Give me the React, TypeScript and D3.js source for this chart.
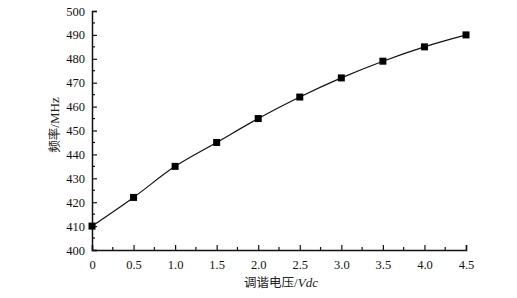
import React, { useRef, useEffect } from "react";
import * as d3 from "d3";

// tuning voltage (Vdc) vs frequency (MHz)
const voltages = [0, 0.5, 1.0, 1.5, 2.0, 2.5, 3.0, 3.5, 4.0, 4.5];
const freqs = [410, 422, 435, 445, 455, 464, 472, 479, 485, 490];
const xTicks = [0, 0.5, 1.0, 1.5, 2.0, 2.5, 3.0, 3.5, 4.0, 4.5];
const yTicks = [400, 410, 420, 430, 440, 450, 460, 470, 480, 490, 500];

const W = 517;
const H = 298;
const margin = { top: 11, right: 51, bottom: 48, left: 92 };

const App = () => {
  const svgRef = useRef<SVGSVGElement>(null);

  useEffect(() => {
    const svg = d3.select(svgRef.current);
    svg.selectAll("*").remove();

    const x = d3.scaleLinear().domain([0, 4.5]).range([margin.left, W - margin.right]);
    const y = d3.scaleLinear().domain([400, 500]).range([H - margin.bottom, margin.top]);
    const font = "'Liberation Serif', 'Times New Roman', serif";

    // x axis, ticks pointing inward
    const minorX = d3.range(0.25, 4.5, 0.5);
    const xAxis = svg
      .append("g")
      .attr("transform", `translate(0,${y(400)})`)
      .call(
        d3
          .axisBottom(x)
          .tickValues(xTicks)
          .tickSize(-5)
          .tickPadding(10)
          .tickFormat((d) => (+d === 0 ? "0" : (+d).toFixed(1)))
      );
    xAxis.selectAll(".tick text").attr("font-family", font).attr("font-size", 12.5).attr("fill", "#111");
    xAxis
      .selectAll(".minor")
      .data(minorX)
      .join("line")
      .attr("x1", (d) => x(d))
      .attr("x2", (d) => x(d))
      .attr("y1", 0)
      .attr("y2", -3);

    // y axis, ticks pointing inward
    const minorY = d3.range(405, 500, 10);
    const yAxis = svg
      .append("g")
      .attr("transform", `translate(${x(0)},0)`)
      .call(d3.axisLeft(y).tickValues(yTicks).tickSize(-5).tickPadding(7));
    yAxis.selectAll(".tick text").attr("font-family", font).attr("font-size", 12.5).attr("fill", "#111");
    yAxis
      .selectAll(".minor")
      .data(minorY)
      .join("line")
      .attr("y1", (d) => y(d))
      .attr("y2", (d) => y(d))
      .attr("x1", 0)
      .attr("x2", 3);

    svg.selectAll(".domain").attr("stroke", "#111").attr("stroke-width", 1.5);
    svg.selectAll(".tick line, .minor").attr("stroke", "#111").attr("stroke-width", 1.2);
    svg.selectAll("line").attr("stroke", "#111").attr("stroke-width", 1.2);

    // curve
    const pts: [number, number][] = voltages.map((v, i) => [v, freqs[i]]);
    const line = d3
      .line<[number, number]>()
      .x((d) => x(d[0]))
      .y((d) => y(d[1]))
      .curve(d3.curveCatmullRom.alpha(0.5));
    svg
      .append("path")
      .attr("d", line(pts))
      .attr("fill", "none")
      .attr("stroke", "#111")
      .attr("stroke-width", 1.2);

    const s = 7;
    svg
      .selectAll(".pt")
      .data(pts)
      .join("rect")
      .attr("class", "pt")
      .attr("x", (d) => x(d[0]) - s / 2)
      .attr("y", (d) => y(d[1]) - s / 2)
      .attr("width", s)
      .attr("height", s)
      .attr("fill", "#000");

    // axis titles
    const xt = svg
      .append("text")
      .attr("x", (x(0) + x(4.5)) / 2 + 2)
      .attr("y", 287)
      .attr("text-anchor", "middle")
      .attr("font-size", 12.5)
      .attr("fill", "#222");
    xt.append("tspan").attr("font-family", "'Noto Sans CJK SC', sans-serif").text("调谐电压");
    xt.append("tspan").attr("font-family", font).attr("font-size", 13).text("/");
    xt.append("tspan").attr("font-family", font).attr("font-style", "italic").attr("font-size", 13).text("Vdc");

    const yt = svg
      .append("text")
      .attr("transform", `translate(59,${125}) rotate(-90)`)
      .attr("text-anchor", "middle")
      .attr("font-size", 12.5)
      .attr("fill", "#222");
    yt.append("tspan").attr("font-family", "'Noto Sans CJK SC', sans-serif").text("频率");
    yt.append("tspan").attr("font-family", font).attr("font-size", 13).text("/MHz");
  }, []);

  return (
    <svg
      ref={svgRef}
      width={W}
      height={H}
      viewBox={`0 0 ${W} ${H}`}
      style={{ position: "absolute", left: 0, top: 0, background: "#fff" }}
    />
  );
};

export default App;
